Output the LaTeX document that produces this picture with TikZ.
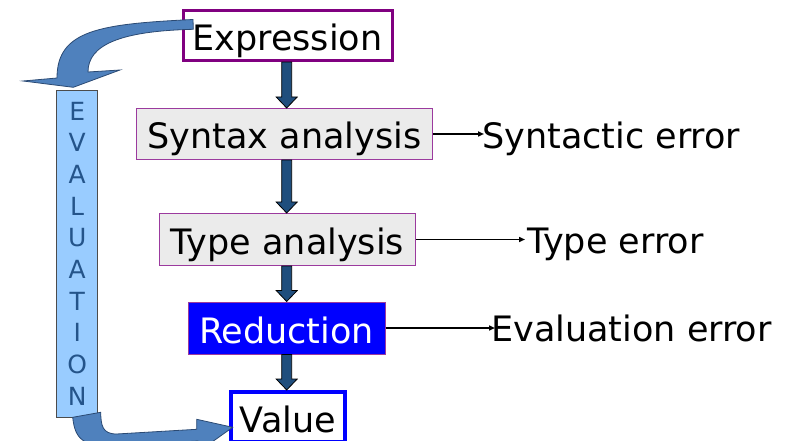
\documentclass[tikz,border=0pt]{standalone}
\usepackage{fontspec}
\setmainfont{DejaVu Sans}
\usetikzlibrary{calc,arrows.meta}
\definecolor{exprpurple}{HTML}{800080}
\definecolor{boxpurple}{HTML}{9B3A9E}
\definecolor{boxgray}{HTML}{EBEBEB}
\definecolor{darkarrow}{HTML}{1F4E7D}
\definecolor{curvearrow}{HTML}{4F81BD}
\definecolor{curveedge}{HTML}{2B4A73}
\definecolor{evalfill}{HTML}{99CCFF}
\definecolor{evaltext}{HTML}{24548A}
\tikzset{
  stagebox/.style={rectangle, inner sep=0pt, text height=30pt, text depth=0pt,
    font=\fontsize{35}{40}\selectfont},
  errtext/.style={inner sep=0pt, anchor=base west, font=\fontsize{35}{40}\selectfont},
  errarrow/.style={line width=1.5pt, -{Triangle[length=6pt,width=5pt]}},
  blockarr/.style={fill=darkarrow, draw=black, line width=0.8pt, line join=miter},
  curvedarr/.style={fill=curvearrow, draw=curveedge, line width=0.8pt, line join=miter}
}
\newcommand\stagearrow[2]{%
  \path[blockarr] ($(#1.south -| ax)+(-5,0)$) -- ($(#2.north -| ax)+(-5,-11)$)
    -- ($(#2.north -| ax)+(-10.5,-11)$) -- (#2.north -| ax)
    -- ($(#2.north -| ax)+(10.5,-11)$) -- ($(#2.north -| ax)+(5,-11)$)
    -- ($(#1.south -| ax)+(5,0)$) -- cycle;}
\begin{document}
\begin{tikzpicture}[x=1pt,y=-1pt]
\useasboundingbox (0,0) rectangle (796,441);
\clip (0,0) rectangle (796,441);
\coordinate (ax) at (286.7,0);

% stage boxes
\node[stagebox, draw=exprpurple, line width=3pt, fill=white,
  minimum width=209pt, minimum height=50pt] (expr) at (287.5,35.6) {Expression};
\node[stagebox, draw=boxpurple, line width=1pt, fill=boxgray,
  minimum width=296pt, minimum height=51pt] (syn) at (284.5,134) {Syntax analysis};
\node[stagebox, draw=boxpurple, line width=1pt, fill=boxgray,
  minimum width=256pt, minimum height=52pt] (typ) at (287.5,239.5) {Type analysis};
\node[stagebox, draw=boxpurple, line width=1pt, fill=blue, text=white,
  minimum width=197pt, minimum height=52pt] (red) at (286.5,328) {Reduction};
\node[stagebox, draw=blue, line width=4pt, fill=white,
  minimum width=114pt, minimum height=50pt] (val) at (288,417) {Value};

% block arrows between stages
\stagearrow{expr}{syn}
\stagearrow{syn}{typ}
\stagearrow{typ}{red}
\stagearrow{red}{val}

% error outputs
\node[errtext] (synerr) at (482,148.3) {Syntactic error};
\node[errtext] (typerr) at (527,254) {Type error};
\node[errtext] (evalerr) at (491,341.7) {Evaluation error};
\draw[errarrow] (syn.east) -- ($(syn.east -| synerr.west)+(2,0)$);
\draw[errarrow] (typ.east) -- ($(typ.east -| typerr.west)+(-2,0)$);
\draw[errarrow] (red.east) -- ($(red.east -| evalerr.west)+(4,0)$);

% EVALUATION bar
\node[draw=gray!60!black, line width=0.8pt, fill=evalfill, minimum width=41pt,
  minimum height=327pt, inner sep=0pt, align=center, text=evaltext,
  font=\fontsize{25}{31.67}\selectfont] (eval) at (77.2,253.7)
  {E\\V\\A\\L\\U\\A\\T\\I\\O\\N};

% curved arrow from Expression down to EVALUATION
\path[curvedarr] (193,19.5) .. controls (100,24) and (57,30) .. (57,78)
  -- (23,81) -- (73.3,87.3) -- (120,70) -- (88,72)
  .. controls (88,45) and (120,31) .. (193.3,29.3) -- cycle;

% curved arrow from EVALUATION to Value
\path[curvedarr] (72.7,417.3) -- (100.7,412.3)
  .. controls (101,425) and (102,434) .. (116.7,434) -- (196.7,429.3)
  -- (196.7,419.3) -- (232.7,427.3) -- (198,452) -- (198,441)
  -- (116,446) .. controls (84,447) and (75,440) .. (72.7,417.3) -- cycle;
\end{tikzpicture}
\end{document}
